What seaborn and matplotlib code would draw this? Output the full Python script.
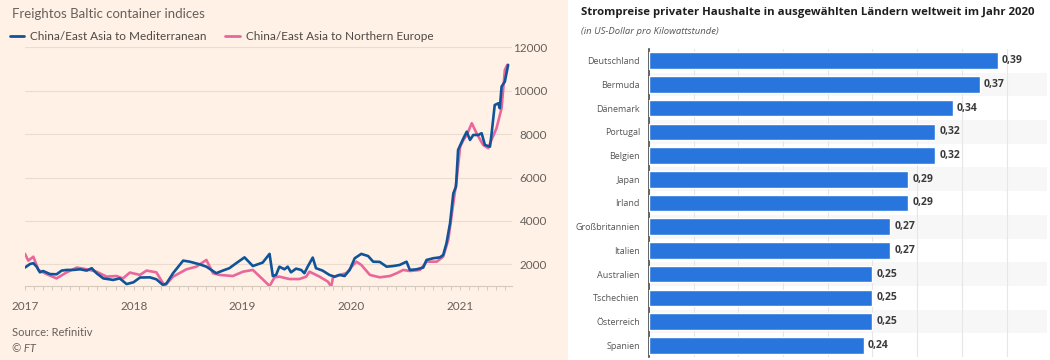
import pandas as pd
import matplotlib.pyplot as plt
import matplotlib.dates as mdates
from matplotlib.lines import Line2D
from matplotlib.patches import Rectangle
import seaborn as sns

# Freightos Baltic Index, China/East Asia -> Mediterranean
med_dates = ['2017-01-01', '2017-01-18', '2017-01-29', '2017-02-09', '2017-02-20', '2017-03-03',
             '2017-03-26', '2017-04-17', '2017-05-04', '2017-05-21', '2017-06-12', '2017-07-05',
             '2017-07-27', '2017-08-13', '2017-08-29', '2017-09-21', '2017-10-24', '2017-11-15',
             '2017-12-08', '2017-12-31', '2018-01-22', '2018-02-24', '2018-03-18', '2018-04-09',
             '2018-04-21', '2018-05-13', '2018-06-16', '2018-07-08', '2018-08-10', '2018-09-02',
             '2018-10-05', '2018-10-27', '2018-11-18', '2018-12-11', '2019-01-08', '2019-02-05',
             '2019-03-10', '2019-04-02', '2019-04-13', '2019-04-24', '2019-05-05', '2019-05-22',
             '2019-06-02', '2019-06-13', '2019-06-30', '2019-07-17', '2019-07-28', '2019-08-08',
             '2019-08-25', '2019-09-05', '2019-09-27', '2019-10-20', '2019-11-06', '2019-11-23',
             '2019-12-10', '2019-12-27', '2020-01-13', '2020-02-04', '2020-02-27', '2020-03-15',
             '2020-04-06', '2020-04-29', '2020-05-21', '2020-06-12', '2020-06-24', '2020-07-05',
             '2020-07-16', '2020-08-08', '2020-08-30', '2020-09-10', '2020-10-03', '2020-10-25',
             '2020-11-05', '2020-11-16', '2020-11-28', '2020-12-09', '2020-12-18', '2020-12-25',
             '2021-01-12', '2021-01-23', '2021-02-03', '2021-02-14', '2021-03-03', '2021-03-14',
             '2021-03-25', '2021-04-11', '2021-04-16', '2021-04-27', '2021-05-09', '2021-05-14',
             '2021-05-20', '2021-05-31', '2021-06-11']
med_values = [1850, 2015, 2050, 1890, 1630, 1690,
              1550, 1540, 1710, 1740, 1740, 1770,
              1710, 1820, 1590, 1350, 1280, 1350,
              1090, 1170, 1390, 1400, 1310, 1050,
              1120, 1590, 2170, 2120, 2000, 1890,
              1590, 1710, 1820, 2050, 2320, 1920,
              2080, 2480, 1460, 1510, 1890, 1770,
              1890, 1630, 1800, 1740, 1590, 1890,
              2310, 1820, 1710, 1510, 1430, 1510,
              1460, 1740, 2280, 2480, 2380, 2120,
              2110, 1890, 1920, 1970, 2050, 2120,
              1740, 1770, 1850, 2200, 2280, 2320,
              2430, 2970, 3890, 5270, 5580, 7270,
              7810, 8110, 7730, 7960, 7960, 8040,
              7500, 7420, 7960, 9340, 9420, 9190,
              10190, 10420, 11190]

# Freightos Baltic Index, China/East Asia -> Northern Europe
eur_dates = ['2017-01-01', '2017-01-12', '2017-01-29', '2017-02-15', '2017-03-14', '2017-04-17',
             '2017-05-21', '2017-06-24', '2017-07-27', '2017-08-29', '2017-10-02', '2017-11-04',
             '2017-11-26', '2017-12-19', '2018-01-22', '2018-02-13', '2018-03-18', '2018-04-15',
             '2018-05-13', '2018-06-27', '2018-07-30', '2018-09-02', '2018-09-24', '2018-10-16',
             '2018-11-30', '2019-01-03', '2019-02-05', '2019-03-10', '2019-04-02', '2019-04-19',
             '2019-05-05', '2019-06-08', '2019-07-11', '2019-08-03', '2019-08-14', '2019-09-17',
             '2019-10-15', '2019-10-26', '2019-11-01', '2019-11-23', '2019-12-16', '2020-01-08',
             '2020-01-19', '2020-02-04', '2020-03-04', '2020-04-06', '2020-05-10', '2020-06-02',
             '2020-06-24', '2020-07-16', '2020-08-19', '2020-09-10', '2020-10-14', '2020-11-05',
             '2020-11-22', '2020-12-09', '2020-12-20', '2021-01-01', '2021-01-12', '2021-01-23',
             '2021-02-09', '2021-02-25', '2021-03-19', '2021-04-05', '2021-04-16', '2021-05-03',
             '2021-05-20', '2021-05-31', '2021-06-08']
eur_values = [2480, 2170, 2350, 1740, 1550, 1350,
              1630, 1850, 1770, 1660, 1430, 1460,
              1350, 1620, 1510, 1710, 1630, 1000,
              1430, 1770, 1890, 2200, 1590, 1510,
              1460, 1660, 1740, 1310, 1000, 1400,
              1430, 1320, 1320, 1430, 1660, 1430,
              1200, 970, 1400, 1510, 1590, 1970,
              2120, 1970, 1510, 1400, 1460, 1590,
              1740, 1690, 1740, 2120, 2120, 2350,
              3120, 4810, 5890, 7420, 7730, 7960,
              8500, 8040, 7500, 7350, 7730, 8270,
              9190, 10960, 11190]

# Strompreise privater Haushalte 2020 (US-Dollar pro kWh)
countries = ['Deutschland', 'Bermuda', 'Dänemark', 'Portugal', 'Belgien', 'Japan', 'Irland',
             'Großbritannien', 'Italien', 'Australien', 'Tschechien', 'Österreich', 'Spanien']
prices = [0.39, 0.37, 0.34, 0.32, 0.32, 0.29, 0.29, 0.27, 0.27, 0.25, 0.25, 0.25, 0.24]

med_label = 'China/East Asia to Mediterranean'
eur_label = 'China/East Asia to Northern Europe'
ft_blue = '#0f5499'
ft_pink = '#e9679a'
ft_bg = '#FFF1E5'
ft_grey = '#66605c'

sns.set_theme(style='white')
plt.rcParams['font.family'] = ['Lato', 'DejaVu Sans']

W, H = 1050, 360
fig = plt.figure(figsize=(W / 100, H / 100), dpi=100)
fig.patch.set_facecolor(ft_bg)
fig.add_artist(Rectangle((568 / W, 0), 1 - 568 / W, 1, transform=fig.transFigure,
                         facecolor='white', edgecolor='none', zorder=-1))

# ---- linker Teil: FT Liniendiagramm
ax1 = fig.add_axes([25 / W, 74 / H, 487 / W, 238.7 / H])
ax1.set_facecolor(ft_bg)
freight = pd.concat([
    pd.DataFrame({'date': pd.to_datetime(med_dates), 'index': med_values, 'route': med_label}),
    pd.DataFrame({'date': pd.to_datetime(eur_dates), 'index': eur_values, 'route': eur_label}),
])
sns.lineplot(data=freight, x='date', y='index', hue='route', hue_order=[eur_label, med_label],
             palette=[ft_pink, ft_blue], estimator=None, linewidth=1.9, legend=False, ax=ax1)

ax1.set_xlim(pd.Timestamp('2017-01-01'), pd.Timestamp('2021-06-24'))
ax1.set_ylim(1000, 12000)
ax1.set_yticks(range(2000, 12001, 2000))
ax1.yaxis.tick_right()
ax1.grid(axis='y', color='#eadccf', linewidth=0.8)
ax1.tick_params(axis='y', length=0, pad=25.2, labelsize=8.5, labelcolor=ft_grey)
plt.setp(ax1.get_yticklabels(), ha='right')
ax1.xaxis.set_major_locator(mdates.YearLocator())
ax1.xaxis.set_major_formatter(mdates.DateFormatter('%Y'))
ax1.xaxis.set_minor_locator(mdates.MonthLocator())
ax1.tick_params(axis='x', which='both', bottom=True, length=3, width=0.7, color='#d6cabf',
                labelsize=8.5, labelcolor=ft_grey, pad=7.5)
for side in ['top', 'left', 'right']:
    ax1.spines[side].set_visible(False)
ax1.spines['bottom'].set_color('#d6cabf')
ax1.spines['bottom'].set_linewidth(0.8)
ax1.set_xlabel('')
ax1.set_ylabel('')

fig.text(12 / W, 1 - 13.5 / H, 'Freightos Baltic container indices', va='center',
         fontsize=9.5, color=ft_grey)
handles = [Line2D([], [], color=ft_blue, lw=2), Line2D([], [], color=ft_pink, lw=2)]
fig.legend(handles=handles, labels=[med_label, eur_label], loc='center left',
           bbox_to_anchor=(10 / W, 1 - 37 / H), ncol=2, frameon=False, fontsize=8.5,
           handlelength=1.2, handletextpad=0.5, columnspacing=1.6, borderpad=0,
           borderaxespad=0, labelcolor='#4d4845')
fig.text(12 / W, 1 - 333 / H, 'Source: Refinitiv', va='center', fontsize=8, color=ft_grey)
fig.text(12 / W, 1 - 348 / H, '© FT', va='center', fontsize=8, color=ft_grey, style='italic')

# ---- rechter Teil: Statista Balkendiagramm
stat_font = ['Open Sans', 'DejaVu Sans']
ax2 = fig.add_axes([649 / W, 2.8 / H, 398 / W, 308.4 / H])
ax2.set_facecolor('white')
for i in range(1, len(countries), 2):
    ax2.axhspan(i - 0.5, i + 0.5, color='#f7f7f7', zorder=0, lw=0)
sns.barplot(x=prices, y=countries, orient='h', color='#2876dd', saturation=1, width=0.7,
            ax=ax2, zorder=3)
ax2.bar_label(ax2.containers[0], labels=[f'{p:.2f}'.replace('.', ',') for p in prices],
              padding=3, fontsize=7.5, fontweight='bold', color='#3a3a3a', family=stat_font)
ax2.set_xlim(0, 0.4452)
ax2.set_ylim(len(countries) - 0.5, -0.5)
ax2.set_xticks([i * 0.05 for i in range(9)])
ax2.grid(axis='x', color='#e6e6e6', linewidth=0.8)
ax2.set_axisbelow(True)
ax2.tick_params(axis='x', length=0, labelbottom=False)
ax2.tick_params(axis='y', length=0, pad=6.5, labelsize=6.5, labelcolor='#555555')
plt.setp(ax2.get_yticklabels(), family=stat_font)
for side in ['top', 'right', 'bottom']:
    ax2.spines[side].set_visible(False)
ax2.spines['left'].set_color('#4a4a4a')
ax2.spines['left'].set_linewidth(1.2)
ax2.set_xlabel('')
ax2.set_ylabel('')

fig.text(581 / W, 1 - 12 / H,
         'Strompreise privater Haushalte in ausgewählten Ländern weltweit im Jahr 2020',
         va='center', fontsize=8.2, fontweight='bold', color='#1f1f1f', family=stat_font)
fig.text(581 / W, 1 - 31 / H, '(in US-Dollar pro Kilowattstunde)', va='center',
         fontsize=6.8, style='italic', color='#555555', family=stat_font)

fig.savefig('out.png', dpi=100, facecolor=fig.get_facecolor())
